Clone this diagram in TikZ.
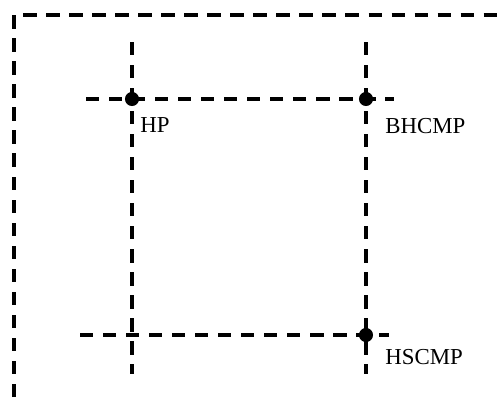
\documentclass[tikz,border=0pt]{standalone}
\usepackage{fontspec}
\setmainfont{Liberation Serif}
\usetikzlibrary{positioning}

\tikzset{
  grid line/.style={line width=2.1pt, dash pattern=on 7.6pt off 5.5pt},
  pt dot/.style={circle, fill=black, inner sep=0pt, minimum size=8pt},
  pt label/.style={anchor=west, inner sep=0pt, font=\fontsize{13}{15}\selectfont}
}

\begin{document}
\begin{tikzpicture}[x=0.02cm, y=-0.02cm]
  \useasboundingbox (0,0) rectangle (498,397);

  % outer frame
  \coordinate (fb) at (14,397);
  \coordinate (fc) at (14,15);
  \coordinate (fr) at (498,15);
  \draw[grid line] (fb) -- (fc) -- (fr);

  % line ends
  \coordinate (v1t) at (132,42);  \coordinate (v1b) at (132,374);
  \coordinate (v2t) at (366,42);  \coordinate (v2b) at (366,374);
  \coordinate (h1l) at (86,99);   \coordinate (h1r) at (394,99);
  \coordinate (h2l) at (80,335);  \coordinate (h2r) at (389,335);

  \draw[grid line] (v1t) -- (v1b);
  \draw[grid line] (v2t) -- (v2b);
  \draw[grid line] (h1l) -- (h1r);
  \draw[grid line] (h2l) -- (h2r);

  % points
  \node[pt dot] (hp) at (132,99) {};
  \node[pt dot] (bhcmp) at (366,99) {};
  \node[pt dot] (hscmp) at (366,335) {};

  \node[pt label] (hpl) at (140,125) {HP};
  \node[pt label] (bhcmpl) at (385,126) {BHCMP};
  \node[pt label] (hscmpl) at (385,357) {HSCMP};
\end{tikzpicture}
\end{document}
